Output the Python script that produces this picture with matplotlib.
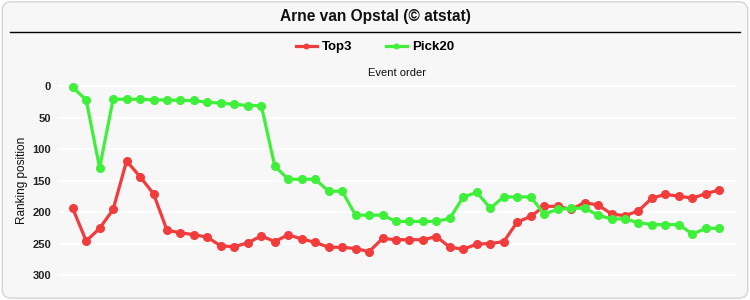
import matplotlib
matplotlib.use("Agg")
import matplotlib.pyplot as plt
import matplotlib.patches as mpatches
import matplotlib.lines as mlines

TITLE = "Arne van Opstal (\u00a9 atstat)"
SERIES_NAMES = ["Top3", "Pick20"]
SERIES_COLORS = ["#f23c3c", "#3ff03a"]
Y_TICKS = [0, 50, 100, 150, 200, 250, 300]

# ranking position per event (lower is better)
top3 = [194, 246, 226, 196, 119, 144, 171, 229, 233, 236, 240, 254, 255, 249,
        238, 247, 236, 243, 248, 256, 256, 258, 263, 242, 244, 244, 244, 239,
        256, 259, 251, 250, 247, 216, 207, 191, 191, 196, 185, 189, 203, 206,
        198, 178, 172, 175, 178, 171, 165]
pick20 = [2, 22, 130, 21, 21, 21, 22, 22, 23, 23, 26, 27, 29, 31,
          31, 127, 148, 148, 148, 167, 167, 205, 205, 205, 215, 215, 215, 215,
          210, 176, 169, 194, 176, 176, 176, 203, 196, 194, 194, 205, 211, 211,
          217, 220, 220, 220, 235, 226, 226]

plt.rcParams["font.family"] = ["Liberation Sans", "DejaVu Sans"]

fig = plt.figure(figsize=(7.5, 3.0), dpi=100, facecolor="white")

# rounded chart background
bg = mpatches.FancyBboxPatch(
    (0.003, 0.006), 0.994, 0.988,
    boxstyle="round,pad=0,rounding_size=0.012",
    mutation_aspect=2.5,
    transform=fig.transFigure, facecolor="#f7f7f7", edgecolor="#d4d4d4",
    linewidth=1.0, zorder=-5,
)
fig.add_artist(bg)

fig.text(0.5, 1 - 17 / 300, TITLE, ha="center", va="center",
         fontsize=11.2, fontweight="bold", color="#111111")
fig.add_artist(mlines.Line2D([10 / 750, 740 / 750], [1 - 32 / 300] * 2,
                             transform=fig.transFigure, color="black", lw=1.0))

ax = fig.add_axes([58 / 750, 1 - 281.3 / 300, 678 / 750, 201.6 / 300])
ax.set_facecolor("none")

x = list(range(len(top3)))
for vals, name, col in zip([top3, pick20], SERIES_NAMES, SERIES_COLORS):
    ax.plot(x, vals, color=col, lw=2.3, marker="o", markersize=5.5,
            label=name, zorder=3)

ax.set_xlim(-1.09, 49.24)
ax.set_ylim(310, -10)
ax.set_yticks(Y_TICKS)
ax.set_yticklabels([str(t) for t in Y_TICKS], fontsize=8, fontweight="bold",
                   color="#222222")
ax.set_xticks([])
ax.tick_params(axis="y", length=0, pad=5)
ax.grid(True, axis="y", color="white", lw=1.6, zorder=1)
for s in ax.spines.values():
    s.set_visible(False)

ax.xaxis.set_label_position("top")
ax.set_xlabel("Event order", fontsize=8, labelpad=3, color="#111111")
ax.set_ylabel("Ranking position", fontsize=8.5, labelpad=3, color="#111111")

fig.legend(loc="center", bbox_to_anchor=(0.5, 1 - 47 / 300), ncol=2,
           frameon=False, prop={"weight": "bold", "size": 9.5},
           handlelength=1.6, handletextpad=0.4, columnspacing=2.5,
           markerscale=0.6)

fig.savefig("out.png", dpi=100, facecolor="white")
